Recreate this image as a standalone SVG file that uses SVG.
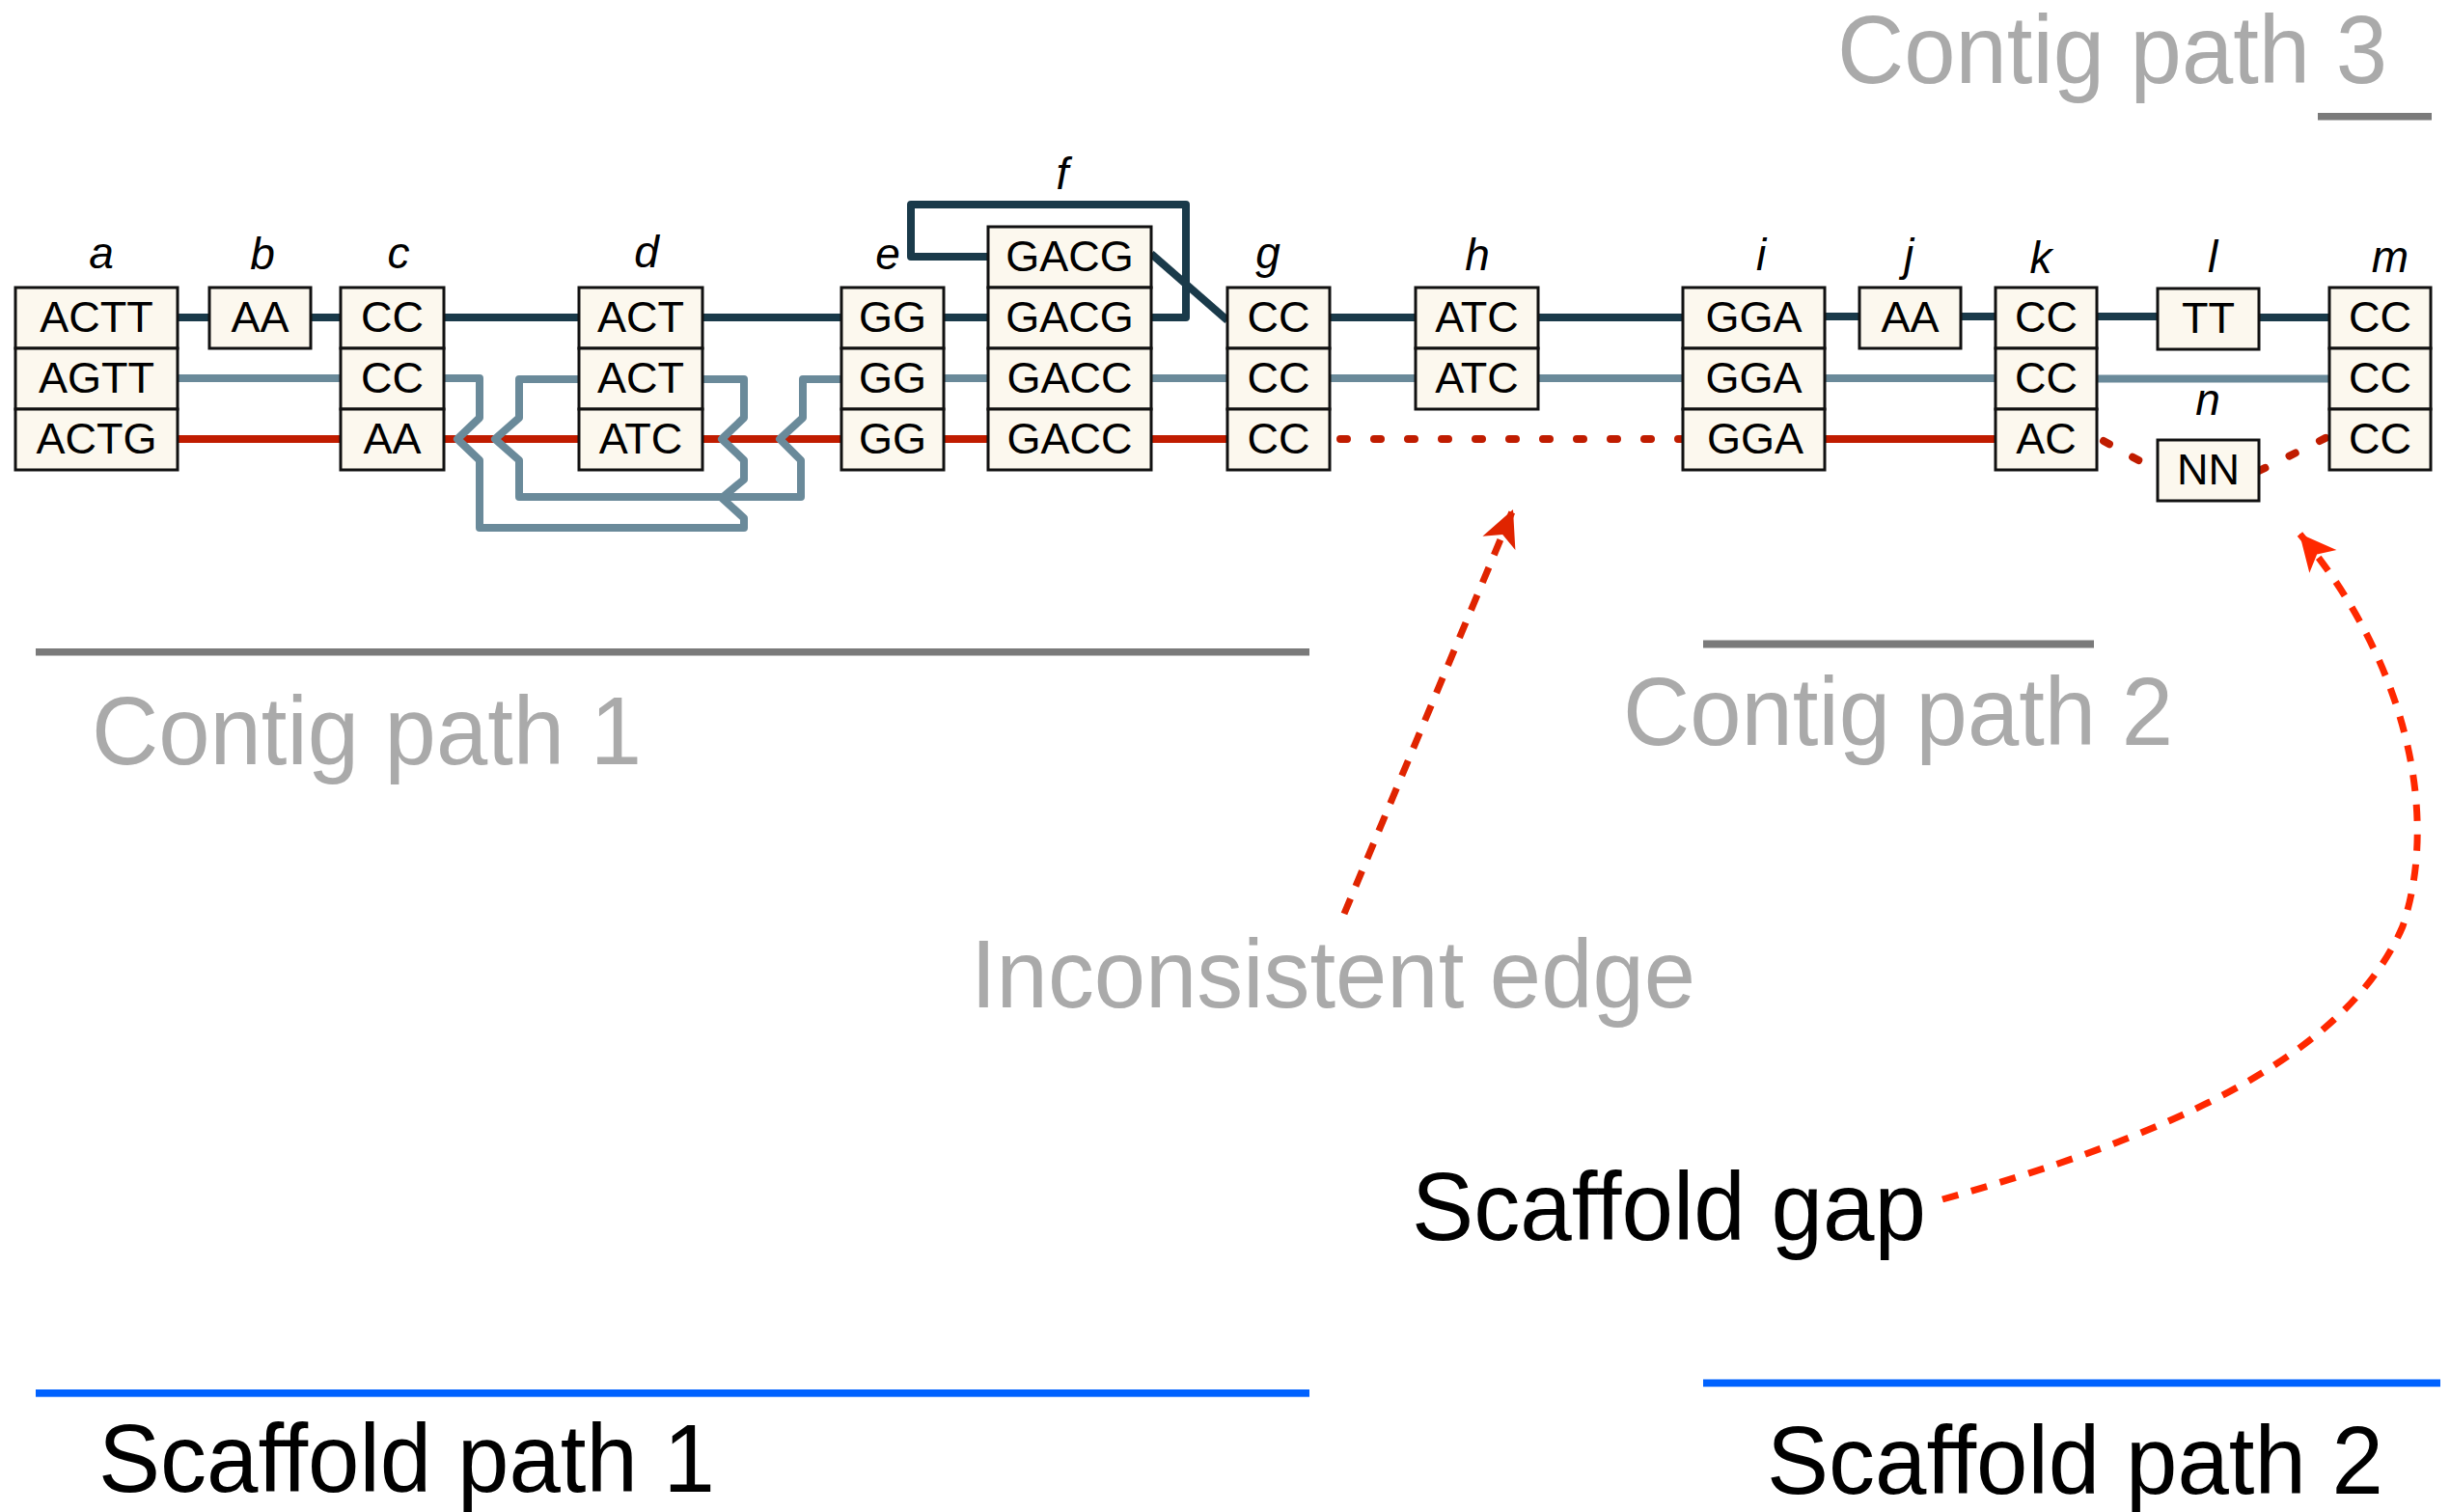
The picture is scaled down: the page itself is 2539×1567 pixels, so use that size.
<svg xmlns="http://www.w3.org/2000/svg" width="2539" height="1567" viewBox="0 0 2539 1567">
<style>
.box{fill:#fcf8ee;stroke:#111;stroke-width:3}
.bt{font-family:"Liberation Sans",Arial,sans-serif;font-size:45px;fill:#000;text-anchor:middle}
.lb{font-family:"Liberation Sans",Arial,sans-serif;font-size:46px;font-style:italic;fill:#000;text-anchor:middle}
.big{font-family:"Liberation Sans",Arial,sans-serif;font-size:100px}
.gray{fill:#aaaaaa}
.blk{fill:#000}
.dk{fill:none;stroke:#1a3a4a;stroke-width:8;stroke-linejoin:round}
.lt{fill:none;stroke:#6a8a9a;stroke-width:8;stroke-linejoin:round}
.rd{fill:none;stroke:#c01c00;stroke-width:8}
.rdot{fill:none;stroke:#c01c00;stroke-width:8;stroke-linecap:round;stroke-dasharray:7 28}
</style>
<defs>
<marker id="ah1" markerUnits="userSpaceOnUse" markerWidth="40" markerHeight="40" viewBox="-36 -18 37 36" refX="0" refY="0" orient="auto">
<path d="M0,0 L-35,-17 L-26,0 L-35,17 Z" fill="#e02400"/>
</marker>
<marker id="ah2" markerUnits="userSpaceOnUse" markerWidth="40" markerHeight="40" viewBox="-36 -18 37 36" refX="0" refY="0" orient="auto">
<path d="M0,0 L-35,-17 L-26,0 L-35,17 Z" fill="#ff2800"/>
</marker>
</defs>

<g id="connectors">
<!-- red contig path -->
<path class="rd" d="M184,455 H353 M460,455 H600 M728,455 H872 M977,455 H1024 M1193,455 H1272 M1891,455 H2068"/>
<path class="rdot" d="M1389,455 H1744"/>
<path class="rdot" d="M2180,457 Q2207,472 2236,488"/>
<path class="rdot" d="M2341,488 Q2378,470 2412,453"/>
<!-- dark path -->
<path class="dk" d="M184,329 H217 M322,329 H353 M460,329 H600 M728,329 H872 M977,329 H1024 M1378,329 H1467 M1594,329 H1744 M1891,328 H1927 M2032,328 H2068 M2173,328 H2236 M2341,329 H2414"/>
<path class="dk" d="M1193,329 H1229 V212 H944 V266 H1024"/>
<path class="dk" d="M1193,263 L1272,332"/>
<!-- light path -->
<path class="lt" d="M184,392 H353 M977,392 H1024 M1193,392 H1272 M1378,392 H1467 M1594,392 H1744 M1891,392 H2068 M2173,392.5 H2414"/>
<path class="lt" d="M600,393 H538 V433 L513,455 L538,477 V515 H830 V477 L808,455 L832,433 V393 H872"/>
<path class="lt" d="M460,392 H497 V433 L474,455 L497,477 V547 H771 V537 L748,516 L771,497 V477 L748,455 L771,433 V393 H728"/>
<!-- annotation arrows -->
<path d="M1393,947 L1568,528" fill="none" stroke="#e02400" stroke-width="7" stroke-dasharray="17 14" marker-end="url(#ah1)"/>
<path d="M2013,1243 C2235,1180 2430,1100 2490,960 C2530,840 2490,680 2383,553" fill="none" stroke="#ff2800" stroke-width="7" stroke-dasharray="17 14" marker-end="url(#ah2)"/>
</g>

<g id="node-a">
<rect class="box" x="16" y="298" width="168" height="63"/><rect class="box" x="16" y="361" width="168" height="63"/><rect class="box" x="16" y="424" width="168" height="63"/>
<text class="bt" x="100" y="344">ACTT</text><text class="bt" x="100" y="407">AGTT</text><text class="bt" x="100" y="470">ACTG</text>
<text class="lb" x="105" y="278">a</text>
</g>
<g id="node-b">
<rect class="box" x="217" y="298" width="105" height="63"/>
<text class="bt" x="269.5" y="344">AA</text>
<text class="lb" x="272" y="279">b</text>
</g>
<g id="node-c">
<rect class="box" x="353" y="298" width="107" height="63"/><rect class="box" x="353" y="361" width="107" height="63"/><rect class="box" x="353" y="424" width="107" height="63"/>
<text class="bt" x="406.5" y="344">CC</text><text class="bt" x="406.5" y="407">CC</text><text class="bt" x="406.5" y="470">AA</text>
<text class="lb" x="413" y="278">c</text>
</g>
<g id="node-d">
<rect class="box" x="600" y="298" width="128" height="63"/><rect class="box" x="600" y="361" width="128" height="63"/><rect class="box" x="600" y="424" width="128" height="63"/>
<text class="bt" x="664" y="344">ACT</text><text class="bt" x="664" y="407">ACT</text><text class="bt" x="664" y="470">ATC</text>
<text class="lb" x="670" y="277">d</text>
</g>
<g id="node-e">
<rect class="box" x="872" y="298" width="106" height="63"/><rect class="box" x="872" y="361" width="106" height="63"/><rect class="box" x="872" y="424" width="106" height="63"/>
<text class="bt" x="925" y="344">GG</text><text class="bt" x="925" y="407">GG</text><text class="bt" x="925" y="470">GG</text>
<text class="lb" x="920" y="279">e</text>
</g>
<g id="node-f">
<rect class="box" x="1024" y="235" width="169" height="63"/><rect class="box" x="1024" y="298" width="169" height="63"/><rect class="box" x="1024" y="361" width="169" height="63"/><rect class="box" x="1024" y="424" width="169" height="63"/>
<text class="bt" x="1108.5" y="281">GACG</text><text class="bt" x="1108.5" y="344">GACG</text><text class="bt" x="1108.5" y="407">GACC</text><text class="bt" x="1108.5" y="470">GACC</text>
<text class="lb" x="1101" y="196">f</text>
</g>
<g id="node-g">
<rect class="box" x="1272" y="298" width="106" height="63"/><rect class="box" x="1272" y="361" width="106" height="63"/><rect class="box" x="1272" y="424" width="106" height="63"/>
<text class="bt" x="1325" y="344">CC</text><text class="bt" x="1325" y="407">CC</text><text class="bt" x="1325" y="470">CC</text>
<text class="lb" x="1314" y="278">g</text>
</g>
<g id="node-h">
<rect class="box" x="1467" y="298" width="127" height="63"/><rect class="box" x="1467" y="361" width="127" height="63"/>
<text class="bt" x="1530.5" y="344">ATC</text><text class="bt" x="1530.5" y="407">ATC</text>
<text class="lb" x="1531" y="280">h</text>
</g>
<g id="node-i">
<rect class="box" x="1744" y="298" width="147" height="63"/><rect class="box" x="1744" y="361" width="147" height="63"/><rect class="box" x="1744" y="424" width="147" height="63"/>
<text class="bt" x="1817.5" y="344">GGA</text><text class="bt" x="1817.5" y="407">GGA</text><text class="bt" x="1819" y="470">GGA</text>
<text class="lb" x="1825" y="280">i</text>
</g>
<g id="node-j">
<rect class="box" x="1927" y="298" width="105" height="63"/>
<text class="bt" x="1979.5" y="344">AA</text>
<text class="lb" x="1978" y="280">j</text>
</g>
<g id="node-k">
<rect class="box" x="2068" y="298" width="105" height="63"/><rect class="box" x="2068" y="361" width="105" height="63"/><rect class="box" x="2068" y="424" width="105" height="63"/>
<text class="bt" x="2120.5" y="344">CC</text><text class="bt" x="2120.5" y="407">CC</text><text class="bt" x="2120.5" y="470">AC</text>
<text class="lb" x="2115" y="283">k</text>
</g>
<g id="node-l">
<rect class="box" x="2236" y="299" width="105" height="63"/>
<text class="bt" x="2288.5" y="345">TT</text>
<text class="lb" x="2293" y="282">l</text>
</g>
<g id="node-m">
<rect class="box" x="2414" y="298" width="105" height="63"/><rect class="box" x="2414" y="361" width="105" height="63"/><rect class="box" x="2414" y="424" width="105" height="63"/>
<text class="bt" x="2466.5" y="344">CC</text><text class="bt" x="2466.5" y="407">CC</text><text class="bt" x="2466.5" y="470">CC</text>
<text class="lb" x="2477" y="282">m</text>
</g>
<g id="node-n">
<rect class="box" x="2236" y="456" width="105" height="63"/>
<text class="bt" x="2288.5" y="502">NN</text>
<text class="lb" x="2288" y="430">n</text>
</g>

<g id="annotations">
<rect x="37" y="672" width="1320" height="7.5" fill="#7a7a7a"/>
<text class="big gray" x="95" y="792" textLength="570" lengthAdjust="spacingAndGlyphs">Contig path 1</text>
<rect x="1765" y="663.5" width="405" height="8" fill="#7a7a7a"/>
<text class="big gray" x="1682" y="771.5" textLength="570" lengthAdjust="spacingAndGlyphs">Contig path 2</text>
<rect x="2402" y="117" width="118" height="7.5" fill="#7a7a7a"/>
<text class="big gray" x="1904" y="86" textLength="570" lengthAdjust="spacingAndGlyphs">Contig path 3</text>
<text class="big gray" x="1006" y="1044" textLength="751" lengthAdjust="spacingAndGlyphs">Inconsistent edge</text>
<text class="big blk" x="1463" y="1285" textLength="533" lengthAdjust="spacingAndGlyphs">Scaffold gap</text>
<rect x="37" y="1440" width="1320" height="7.7" fill="#0062ff"/>
<text class="big blk" x="102" y="1545.5" textLength="639" lengthAdjust="spacingAndGlyphs">Scaffold path 1</text>
<rect x="1765" y="1429.5" width="764" height="7.7" fill="#0062ff"/>
<text class="big blk" x="1831" y="1548" textLength="639" lengthAdjust="spacingAndGlyphs">Scaffold path 2</text>
</g>
</svg>
